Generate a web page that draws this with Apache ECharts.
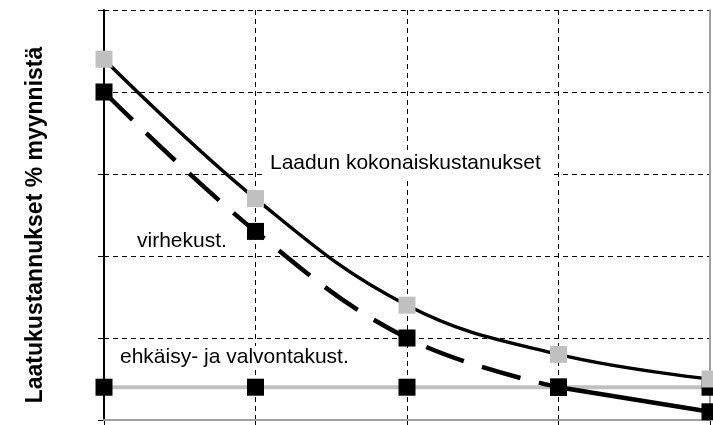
<!DOCTYPE html>
<html>
<head>
<meta charset="utf-8">
<script src="https://cdn.jsdelivr.net/npm/echarts@6/dist/echarts.min.js"></script>
<style>
  html, body { margin: 0; padding: 0; background: #ffffff; }
  #chart { width: 713px; height: 425px; }
</style>
</head>
<body>
<div id="chart"></div>
<script>
// Quality cost stages (x positions; no tick labels shown)
const stages = ['1', '2', '3', '4', '5'];
// Quality costs as % of sales
const totalCosts = [4.4, 2.7, 1.4, 0.8, 0.5];       // Laadun kokonaiskustannukset
const errorCosts = [4.0, 2.3, 1.0, 0.4, 0.1];       // virhekust.
const preventionCosts = [0.4, 0.4, 0.4, 0.4, 0.4];  // ehkäisy- ja valvontakust.
const yTicks = [0, 1, 2, 3, 4, 5];

const FONT = '"Liberation Sans", Arial, sans-serif';
const GREY = '#c0c0c0';
const BORDER = '#a0a0a0';

const chart = echarts.init(document.getElementById('chart'), null, { renderer: 'canvas' });

// error-cost curve: dashed, smoothed part up to the fourth stage,
// then a solid stretch to the last stage
const lastIdx = errorCosts.length - 1;
const errorDashed = errorCosts.map((v, j) => (j < lastIdx ? v : '-'));
const errorSolid = errorCosts.map((v, j) => (j >= lastIdx - 1 ? v : '-'));

const option = {
  animation: false,
  backgroundColor: '#ffffff',
  grid: { left: 104, right: 3, top: 10, bottom: 5, containLabel: false },
  xAxis: [
    {
      type: 'category',
      data: stages,
      boundaryGap: false,
      position: 'bottom',
      axisLine: { lineStyle: { color: '#000000', width: 2 } },
      axisTick: { show: true, length: 5, inside: false, lineStyle: { color: '#000000', width: 1 } },
      axisLabel: { show: false },
      splitLine: {
        show: true,
        interval: (idx) => idx > 0 && idx < stages.length - 1,
        lineStyle: { color: '#000000', width: 1, type: [5, 4] }
      }
    },
    {
      type: 'category',
      data: stages,
      boundaryGap: false,
      position: 'top',
      z: 1,
      axisLine: { lineStyle: { color: BORDER, width: 2 } },
      axisTick: { show: false },
      axisLabel: { show: false },
      splitLine: { show: false }
    }
  ],
  yAxis: [
    {
      type: 'value',
      min: yTicks[0],
      max: yTicks[yTicks.length - 1],
      interval: 1,
      position: 'left',
      axisLine: { show: true, lineStyle: { color: '#000000', width: 2 } },
      axisTick: { show: true, length: 6, inside: false, lineStyle: { color: '#000000', width: 1 } },
      axisLabel: { show: false },
      splitLine: { show: true, lineStyle: { color: '#000000', width: 1, type: [5, 4] } }
    },
    {
      type: 'value',
      min: yTicks[0],
      max: yTicks[yTicks.length - 1],
      interval: 1,
      position: 'right',
      z: 1,
      axisLine: { show: true, lineStyle: { color: BORDER, width: 2 } },
      axisTick: { show: false },
      axisLabel: { show: false },
      splitLine: { show: false }
    }
  ],
  series: [
    {
      type: 'line',
      name: 'ehkäisy- ja valvontakust.',
      data: preventionCosts,
      symbol: 'rect',
      symbolSize: 17,
      itemStyle: { color: '#000000' },
      lineStyle: { color: GREY, width: 4 },
      z: 2
    },
    {
      type: 'line',
      name: 'virhekust.',
      data: errorDashed,
      smooth: 0.4,
      symbol: 'rect',
      symbolSize: 17,
      itemStyle: { color: '#000000' },
      lineStyle: { color: '#000000', width: 4.5, type: [40, 19], cap: 'butt' },
      z: 3
    },
    {
      type: 'line',
      name: 'virhekust.',
      data: errorSolid,
      symbol: 'rect',
      symbolSize: 17,
      itemStyle: { color: '#000000' },
      lineStyle: { color: '#000000', width: 4.5 },
      z: 3
    },
    {
      type: 'line',
      name: 'Laadun kokonaiskustanukset',
      data: totalCosts,
      smooth: 0.4,
      symbol: 'rect',
      symbolSize: 17,
      itemStyle: { color: GREY },
      lineStyle: { color: '#000000', width: 3.5 },
      z: 4
    }
  ],
  graphic: [
    {
      type: 'text',
      x: 36, y: 225,
      rotation: Math.PI / 2,
      style: {
        text: 'Laatukustannukset % myynnistä',
        font: 'bold 23px ' + FONT,
        fill: '#000000',
        align: 'center',
        verticalAlign: 'middle'
      }
    },
    {
      type: 'text',
      x: 266, y: 163.5, z: 5,
      style: {
        text: 'Laadun kokonaiskustanukset',
        font: '21px ' + FONT,
        fill: '#000000',
        align: 'left',
        verticalAlign: 'middle',
        backgroundColor: '#ffffff',
        padding: [1, 12, 5, 4]
      }
    },
    {
      type: 'text',
      x: 133, y: 241.5, z: 5,
      style: {
        text: 'virhekust.',
        font: '21px ' + FONT,
        fill: '#000000',
        align: 'left',
        verticalAlign: 'middle',
        backgroundColor: '#ffffff',
        padding: [1, 6, 6, 4]
      }
    },
    {
      type: 'text',
      x: 116, y: 357.5, z: 5,
      style: {
        text: 'ehkäisy- ja valvontakust.',
        font: '21px ' + FONT,
        fill: '#000000',
        align: 'left',
        verticalAlign: 'middle',
        backgroundColor: '#ffffff',
        padding: [1, 4, 1, 4]
      }
    }
  ]
};

chart.setOption(option);
</script>
</body>
</html>
